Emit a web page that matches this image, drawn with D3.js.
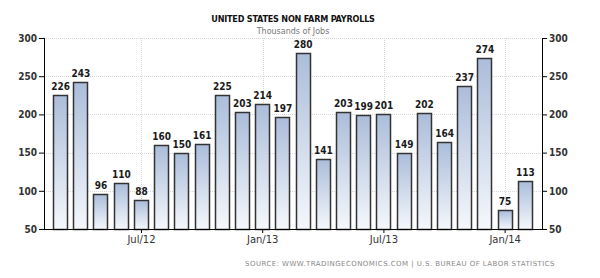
<!DOCTYPE html>
<html>
<head>
<meta charset="utf-8">
<script src="https://cdn.jsdelivr.net/npm/d3@7"></script>
<style>
    body { margin: 0; background: #fff; }
    text { font-family: "DejaVu Sans", Tahoma, sans-serif; }
</style>
</head>
<body>
<svg id="chart" width="600" height="278"></svg>
<script>
// monthly non farm payrolls, Mar 2012 .. Feb 2014
var months = ['2012-03', '2012-04', '2012-05', '2012-06', '2012-07', '2012-08', '2012-09', '2012-10',
    '2012-11', '2012-12', '2013-01', '2013-02', '2013-03', '2013-04', '2013-05', '2013-06', '2013-07',
    '2013-08', '2013-09', '2013-10', '2013-11', '2013-12', '2014-01', '2014-02'];
var payrolls = [226, 243, 96, 110, 88, 160, 150, 161, 225, 203, 214, 197, 280, 141, 203, 199, 201,
    149, 202, 164, 237, 274, 75, 113];
var yTicks = [50, 100, 150, 200, 250, 300];
var xTicks = ['2012-07', '2013-01', '2013-07', '2014-01'];
var xTickLabels = ['Jul/12', 'Jan/13', 'Jul/13', 'Jan/14'];

var svg = d3.select('#chart');
var plotLeft = 44, plotRight = 542, plotTop = 38, plotBottom = 229;
var condensed = '"DejaVu Sans Condensed", "DejaVu Sans", sans-serif';

var x = d3.scaleBand().domain(months).range([plotLeft, plotRight]).paddingInner(0.25).paddingOuter(0.45);
var y = d3.scaleLinear().domain([50, 300]).range([plotBottom, plotTop]);

var grad = svg.append('defs').append('linearGradient')
    .attr('id', 'barFill').attr('x1', 0).attr('y1', 0).attr('x2', 0).attr('y2', 1);
grad.append('stop').attr('offset', '0%').attr('stop-color', '#abbdda');
grad.append('stop').attr('offset', '100%').attr('stop-color', '#f5f8fc');

// grid
svg.append('g').selectAll('line').data(yTicks.slice(1)).enter().append('line')
    .attr('x1', plotLeft).attr('x2', plotRight)
    .attr('y1', function (d) { return Math.round(y(d)) + 0.5; })
    .attr('y2', function (d) { return Math.round(y(d)) + 0.5; })
    .style('stroke', '#d8d8d8').style('stroke-dasharray', '1,1');

svg.append('g').selectAll('line').data(xTicks).enter().append('line')
    .attr('x1', function (d) { return Math.round(x(d) + x.bandwidth() / 2) + 0.5; })
    .attr('x2', function (d) { return Math.round(x(d) + x.bandwidth() / 2) + 0.5; })
    .attr('y1', plotTop).attr('y2', plotBottom)
    .style('stroke', '#d8d8d8').style('stroke-dasharray', '1,1');

// bars
svg.append('g').selectAll('rect').data(payrolls).enter().append('rect')
    .attr('x', function (d, i) { return Math.round(x(months[i])) + 0.5; })
    .attr('y', function (d) { return Math.round(y(d)) + 0.5; })
    .attr('width', Math.round(x.bandwidth()) - 1)
    .attr('height', function (d) { return plotBottom - Math.round(y(d)); })
    .style('fill', 'url(#barFill)')
    .style('stroke', '#333')
    .style('stroke-width', 1.5);

svg.append('g').selectAll('text').data(payrolls).enter().append('text')
    .attr('x', function (d, i) { return x(months[i]) + x.bandwidth() / 2; })
    .attr('y', function (d) { return y(d) - 5; })
    .attr('text-anchor', 'middle')
    .style('font-family', condensed)
    .style('font-size', '10px')
    .style('font-weight', '600')
    .style('fill', '#1a1a1a')
    .text(function (d) { return d; });

// axes
var leftAxis = svg.append('g').attr('transform', 'translate(' + plotLeft + ',0)')
    .call(d3.axisLeft(y).tickValues(yTicks).tickSize(5).tickPadding(2));
var rightAxis = svg.append('g').attr('transform', 'translate(' + plotRight + ',0)')
    .call(d3.axisRight(y).tickValues(yTicks).tickSize(5).tickPadding(2));
[leftAxis, rightAxis].forEach(function (a) {
    a.select('.domain').attr('d', 'M0.5,' + plotTop + 'V' + plotBottom).style('stroke', '#000');
    a.selectAll('.tick line').style('stroke', '#000');
    a.selectAll('text').style('font-size', '10px').style('font-weight', 'bold').style('fill', '#333')
        .style('font-family', condensed);
});

var bottomAxis = svg.append('g').attr('transform', 'translate(0,' + plotBottom + ')')
    .call(d3.axisBottom(x).tickValues(xTicks).tickSize(4).tickPadding(3)
        .tickFormat(function (d) { return xTickLabels[xTicks.indexOf(d)]; }));
bottomAxis.select('.domain').attr('d', 'M' + plotLeft + ',0.5H' + plotRight).style('stroke', '#000');
bottomAxis.selectAll('.tick line').style('stroke', '#000');
bottomAxis.selectAll('text').style('font-size', '10px').style('fill', '#333')
    .style('font-family', '"DejaVu Sans", sans-serif');

// titles
svg.append('text').attr('x', (plotLeft + plotRight) / 2).attr('y', 22).attr('text-anchor', 'middle')
    .style('font-family', condensed)
    .style('font-size', '9px').style('font-weight', 'bold').style('fill', '#111')
    .style('letter-spacing', '-0.2px')
    .text('UNITED STATES NON FARM PAYROLLS');
svg.append('text').attr('x', (plotLeft + plotRight) / 2).attr('y', 34).attr('text-anchor', 'middle')
    .style('font-size', '8px').style('fill', '#777')
    .text('Thousands of Jobs');
svg.append('text').attr('x', 555).attr('y', 266).attr('text-anchor', 'end')
    .style('font-size', '7px').style('fill', '#888').style('letter-spacing', '0.45px')
    .text('SOURCE: WWW.TRADINGECONOMICS.COM  |  U.S. BUREAU OF LABOR STATISTICS');
</script>
</body>
</html>
